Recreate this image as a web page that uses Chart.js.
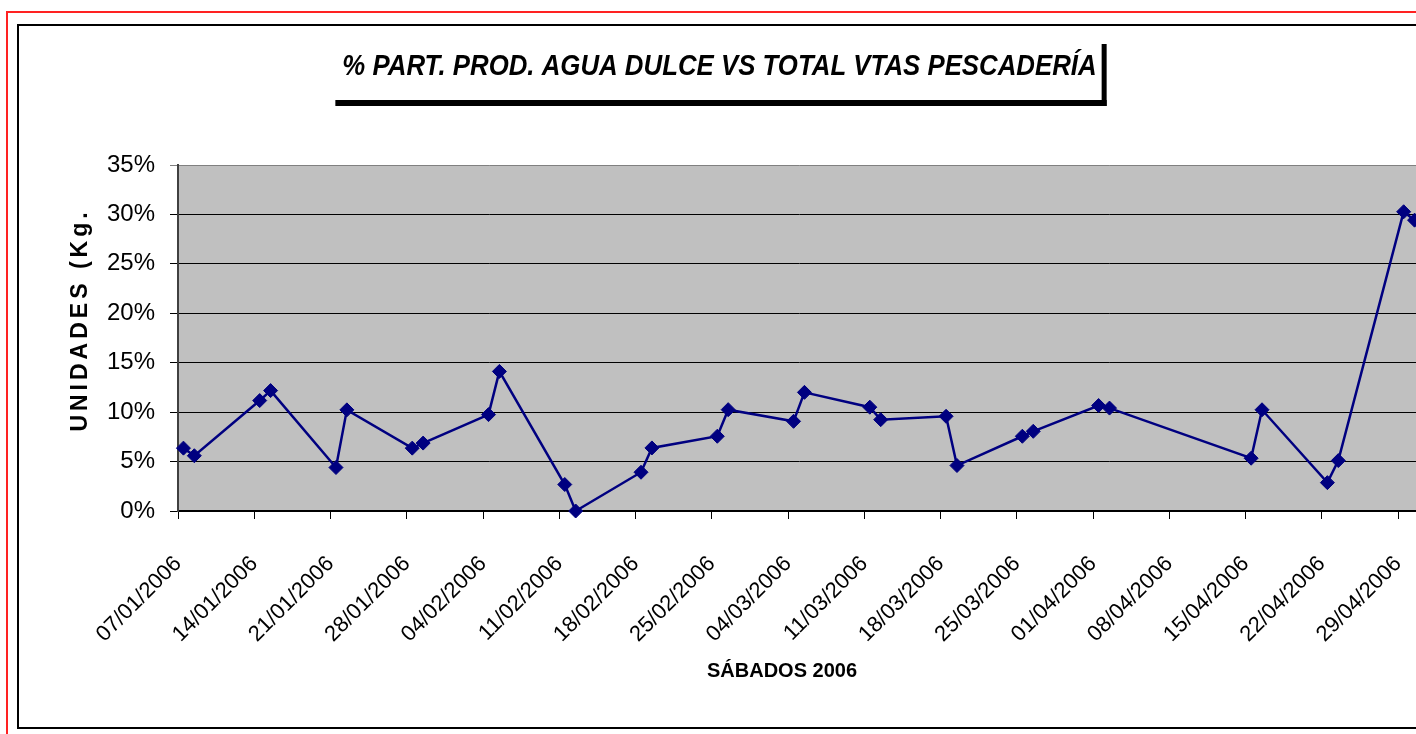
<!DOCTYPE html>
<html><head><meta charset="utf-8">
<script src="https://cdn.jsdelivr.net/npm/chart.js@4.4.1/dist/chart.umd.min.js"></script>
<style>
html,body{margin:0;padding:0;background:#fff;overflow:hidden;width:1416px;height:734px;}
#red{position:absolute;left:6px;top:11px;width:1500px;height:760px;border:2px solid #f22;}
#blk{position:absolute;left:17px;top:24px;width:1500px;height:701px;border:2px solid #000;background:#fff;}
#cv{position:absolute;left:19px;top:26px;}
</style></head>
<body>
<div id="red"></div>
<div id="blk"></div>
<canvas id="cv" width="1480" height="701"></canvas>
<script>
const chartTitle = '% PART. PROD. AGUA DULCE VS TOTAL VTAS PESCADERÍA';
const xTitle = 'SÁBADOS 2006';
const yTitle = 'UNIDADES (Kg.';
const weekLabels = ['07/01/2006','14/01/2006','21/01/2006','28/01/2006','04/02/2006','11/02/2006','18/02/2006','25/02/2006','04/03/2006','11/03/2006','18/03/2006','25/03/2006','01/04/2006','08/04/2006','15/04/2006','22/04/2006','29/04/2006'];
const pointDates = ['2006-01-07','2006-01-08','2006-01-14','2006-01-15','2006-01-21','2006-01-22','2006-01-28','2006-01-29',
  '2006-02-04','2006-02-05','2006-02-11','2006-02-12','2006-02-18','2006-02-19','2006-02-25','2006-02-26',
  '2006-03-04','2006-03-05','2006-03-11','2006-03-12','2006-03-18','2006-03-19','2006-03-25','2006-03-26',
  '2006-04-01','2006-04-02','2006-04-15','2006-04-16','2006-04-22','2006-04-23','2006-04-29','2006-04-30'];
const shareValues = [6.36,5.59,11.17,12.18,4.40,10.23,6.36,6.87,
  9.75,14.12,2.68,0.00,3.92,6.38,7.56,10.25,
  9.07,12.00,10.50,9.24,9.58,4.60,7.56,8.06,
  10.67,10.41,5.34,10.24,2.87,5.10,30.27,29.42];
const yTicks = [0,5,10,15,20,25,30,35];

const startMs = Date.parse('2006-01-07T00:00:00Z');
const dayOf = d => (Date.parse(d + 'T00:00:00Z') - startMs) / 864e5 + 0.5;
const points = pointDates.map((d, i) => ({x: dayOf(d), y: shareValues[i]}));

const FONT = '"Liberation Sans", Arial, sans-serif';
const TITLE_SIZE = 29, TITLE_SX = 0.89;

const plotBg = {
  id: 'plotBg',
  beforeDraw(chart) {
    const a = chart.chartArea, ctx = chart.ctx;
    ctx.save();
    ctx.fillStyle = '#C0C0C0';
    ctx.fillRect(a.left, a.top, a.right - a.left, a.bottom - a.top);
    ctx.restore();
    const ys = chart.scales.y, xs = chart.scales.x, tb = chart.titleBlock;
    if (ys && !ys._p) {
      const o = ys.drawTitle;
      ys.drawTitle = function () { const c = this.ctx; c.save(); c.letterSpacing = '4px'; c.translate(0, -18); o.call(this); c.restore(); };
      ys._p = true;
    }
    if (xs && !xs._p) {
      const o = xs.drawTitle;
      xs.drawTitle = function () { const c = this.ctx; c.save(); c.translate(-17, 0); o.call(this); c.restore(); };
      xs._p = true;
    }
    if (tb && !tb._p) {
      const o = tb.draw;
      tb.draw = function () {
        const c = this.ctx, cx = (this.left + this.right) / 2;
        c.save(); c.translate(cx, 0); c.scale(TITLE_SX, 1); c.translate(-cx, 0);
        o.call(this); c.restore();
      };
      tb._p = true;
    }
  }
};
const titleShadow = {
  id: 'titleShadow',
  afterDraw(chart) {
    const t = chart.titleBlock, ctx = chart.ctx;
    ctx.save();
    ctx.font = 'italic bold ' + TITLE_SIZE + 'px ' + FONT;
    const w = ctx.measureText(chartTitle).width * TITLE_SX;
    const cx = (t.left + t.right) / 2;
    const l = cx - w / 2 - 7, r = cx + w / 2 + 10;
    ctx.fillStyle = '#000';
    ctx.fillRect(l, 74, r - l, 6);
    ctx.fillRect(r - 5, 18, 5, 62);
    ctx.restore();
  }
};

new Chart(document.getElementById('cv'), {
  type: 'line',
  data: {
    datasets: [{
      data: points,
      borderColor: '#000080',
      backgroundColor: '#000080',
      borderWidth: 2.5,
      pointStyle: 'rectRot',
      pointRadius: 7,
      pointBorderWidth: 1,
      pointBackgroundColor: '#000080',
      pointBorderColor: '#000080',
      tension: 0,
      clip: false
    }]
  },
  options: {
    responsive: false,
    animation: false,
    events: [],
    layout: {padding: {left: 0, right: 79, top: 0, bottom: 0}},
    plugins: {
      legend: {display: false},
      tooltip: {enabled: false},
      title: {
        display: true,
        text: chartTitle,
        color: '#000',
        font: {family: FONT, size: TITLE_SIZE, weight: 'bold', style: 'italic', lineHeight: 1.2},
        padding: {top: 23.6, bottom: 80.6}
      }
    },
    scales: {
      x: {
        type: 'linear',
        min: 0, max: 114,
        afterFit: s => { s.height = 216; },
        ticks: {
          stepSize: 7, includeBounds: false, autoSkip: false,
          minRotation: 45, maxRotation: 45,
          color: '#000', padding: 32,
          font: {family: FONT, size: 22},
          callback: v => weekLabels[Math.round(v / 7)]
        },
        grid: {drawOnChartArea: false, drawTicks: true, tickLength: 8, color: '#000', lineWidth: 1},
        border: {color: '#000', width: 2},
        title: {display: true, text: xTitle, color: '#000', font: {family: FONT, size: 20, weight: 'bold', lineHeight: 1.2}, padding: {top: 0, bottom: 44}}
      },
      y: {
        min: 0, max: 35,
        afterFit: s => { s.width = 159; },
        afterBuildTicks: s => { s.ticks = yTicks.map(v => ({value: v})); },
        ticks: {
          color: '#000', padding: 15,
          font: {family: FONT, size: 24},
          callback: v => v + '%'
        },
        grid: {color: c => (c.tick && c.tick.value === 35 ? '#808080' : '#000'), lineWidth: 1, tickLength: 8},
        border: {color: '#404040', width: 2},
        title: {display: true, text: yTitle, color: '#000', font: {family: FONT, size: 23, weight: 'bold', lineHeight: 1.2}, padding: {top: 48.2, bottom: 0}}
      }
    }
  },
  plugins: [plotBg, titleShadow]
});
</script>
</body></html>
